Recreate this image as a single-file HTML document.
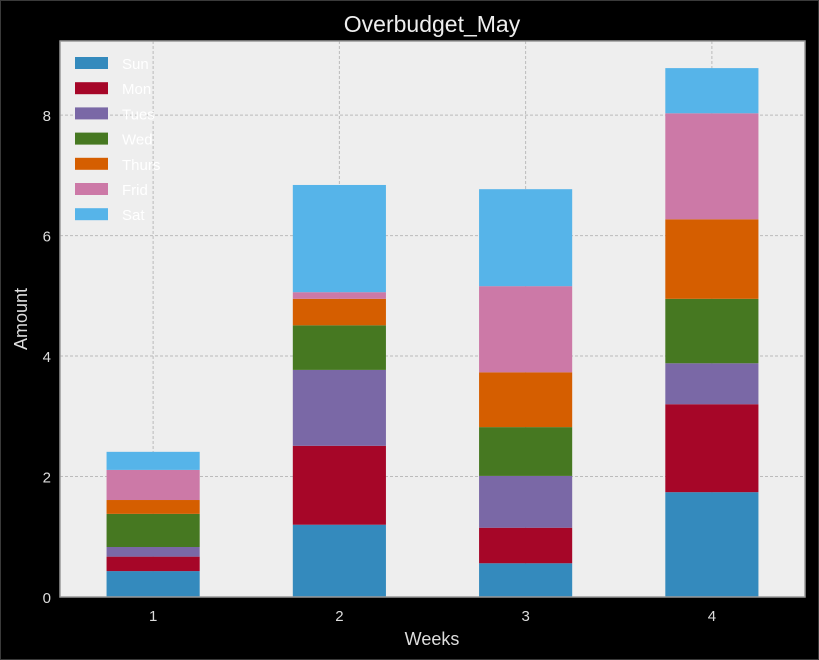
<!DOCTYPE html>
<html><head><meta charset="utf-8"><style>
body{margin:0;background:#000;}
svg{display:block;font-family:"Liberation Sans",sans-serif;}
</style></head><body>
<svg id="chart" width="819" height="660">
<rect x="0.5" y="0.5" width="818" height="659" fill="#000" stroke="#3a3a3a"/>
<text x="432" y="32" fill="#eee" font-size="23" text-anchor="middle">Overbudget_May</text>
<rect x="60" y="41" width="745" height="556" fill="#eeeeee"/>
<g id="grid"></g><g id="bars"></g>
<rect x="60" y="41" width="745" height="556" fill="none" stroke="#999" stroke-width="1.5"/>
<g id="ticks"></g><g id="legend"></g>
<text x="432" y="645" fill="#ddd" font-size="18" text-anchor="middle">Weeks</text>
<text transform="translate(27,319) rotate(-90)" fill="#ddd" font-size="18" text-anchor="middle">Amount</text>
</svg>
<script>
const weeks=["1","2","3","4"];
const days=["Sun","Mon","Tues","Wed","Thurs","Frid","Sat"];
const colors=["#348abd","#a60628","#7a68a6","#467821","#d55e00","#cc79a7","#56b4e9"];
const sun=[0.43,1.2,0.56,1.74];
const mon=[0.24,1.31,0.59,1.46];
const tues=[0.16,1.26,0.86,0.68];
const wed=[0.55,0.74,0.81,1.07];
const thurs=[0.23,0.44,0.91,1.32];
const frid=[0.50,0.11,1.43,1.76];
const sat=[0.30,1.78,1.61,0.75];
const yTicks=[0,2,4,6,8];
const series=[sun,mon,tues,wed,thurs,frid,sat];
const NS="http://www.w3.org/2000/svg";
const L=60,R=805,T=41,B=597,yMax=9.23;
const xs=i=>L+(i+0.5)*(R-L)/weeks.length;
const ys=v=>B-v*(B-T)/yMax;
const bw=(R-L)/weeks.length*0.5;
function mk(t,a,p){const e=document.createElementNS(NS,t);for(const k in a)e.setAttribute(k,a[k]);p.appendChild(e);return e;}
const grid=document.getElementById('grid'),bars=document.getElementById('bars'),ticks=document.getElementById('ticks'),leg=document.getElementById('legend');
yTicks.forEach(v=>{
 const y=ys(v);
 if(v>0){const g=mk('line',{x1:L,x2:R,y1:y,y2:y,stroke:'#bbb','stroke-dasharray':'3,2'},grid);
 
 }
 const t=mk('text',{x:L-9,y:y+6,fill:'#ddd','font-size':15,'text-anchor':'end'},ticks);t.textContent=v;
 
 
});
weeks.forEach((w,i)=>{
 const x=xs(i);
 const g=mk('line',{x1:x,x2:x,y1:T,y2:B,stroke:'#bbb','stroke-dasharray':'3,2'},grid);
 
 
 const t=mk('text',{x:x,y:B+24,fill:'#ddd','font-size':15,'text-anchor':'middle'},ticks);t.textContent=w;
 
 
 let cum=0;
 series.forEach((s,k)=>{
  const r=mk('rect',{x:x-bw/2,y:ys(cum+s[i]),width:bw,height:ys(cum)-ys(cum+s[i]),fill:colors[k]},bars);
  
  
  cum+=s[i];
 });
});
days.forEach((d,k)=>{
 const y=63+k*25.2;
 const r=mk('rect',{x:75,y:y-6,width:33,height:12,fill:colors[k]},leg);
 
 
 const t=mk('text',{x:122,y:y+6,fill:'#fff','font-size':15},leg);t.textContent=d;
 
 
});
</script>
</body></html>
